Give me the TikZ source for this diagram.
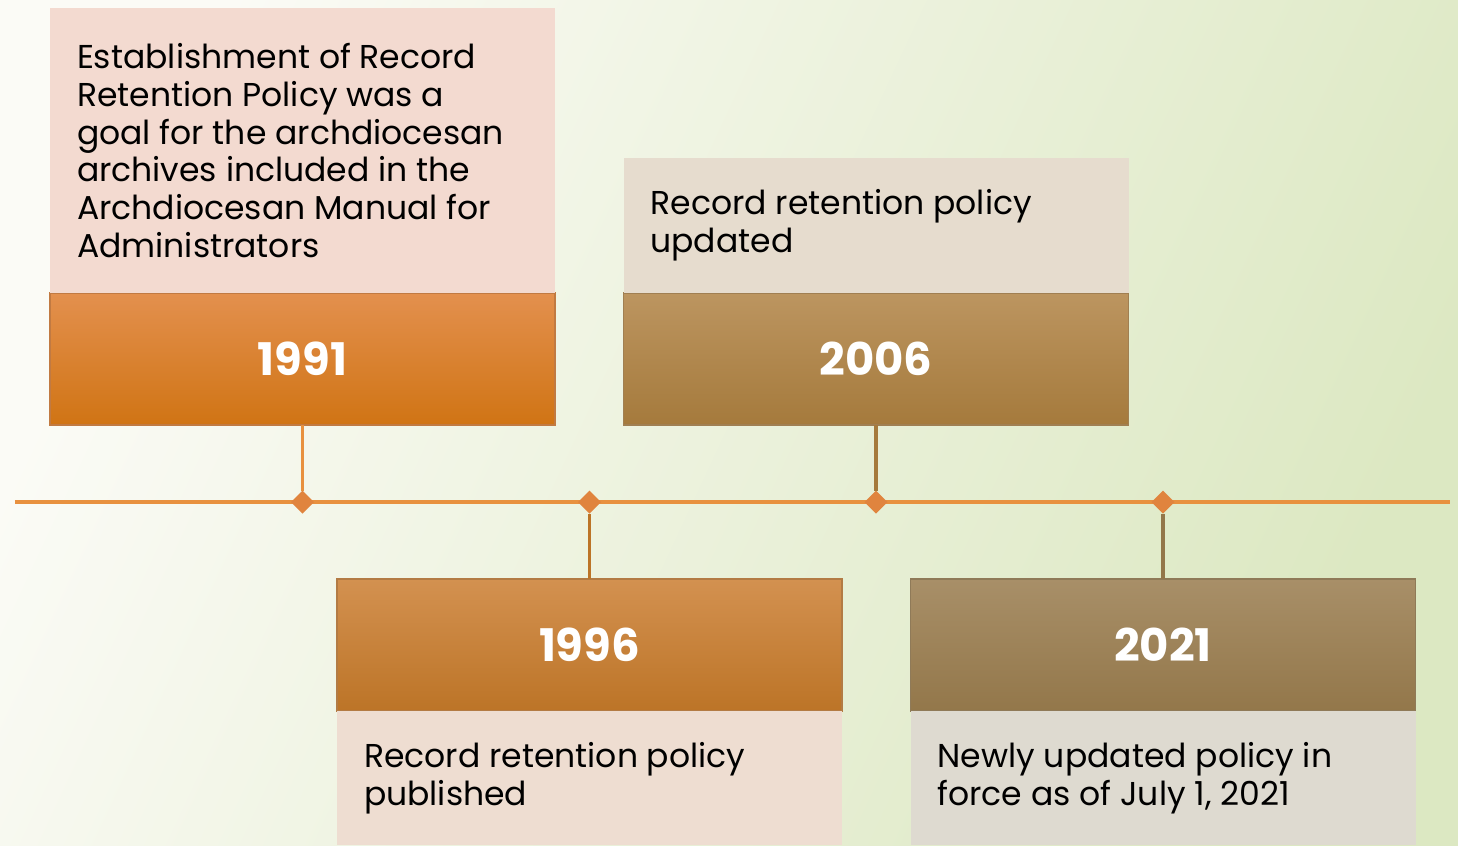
\documentclass[tikz,border=0pt]{standalone}
\usepackage{fontspec}
\setmainfont{Poppins}
\usetikzlibrary{positioning, shapes.geometric, backgrounds}
\definecolor{bgleft}{HTML}{FBFBF6}
\definecolor{bgright}{HTML}{DCE8C2}
\definecolor{lineorange}{HTML}{E8913F}
\definecolor{diamondorange}{HTML}{E0843E}
\definecolor{orangetop}{HTML}{E3904E}
\definecolor{orangebot}{HTML}{D07414}
\definecolor{amberTop}{HTML}{D39150}
\definecolor{amberBot}{HTML}{BC7427}
\definecolor{tanTop}{HTML}{BC9560}
\definecolor{tanBot}{HTML}{A57A3C}
\definecolor{oliveTop}{HTML}{A88F68}
\definecolor{oliveBot}{HTML}{93774A}
\definecolor{notepink}{HTML}{F3DAD0}
\definecolor{notepeach}{HTML}{EEDDD1}
\definecolor{notesand}{HTML}{E6DCCE}
\definecolor{notegrey}{HTML}{DEDAD0}

\begin{document}
\begin{tikzpicture}[
  every node/.style={font=\fontsize{9.4}{10.8}\selectfont, outer sep=0pt},
  yearbox/.style 2 args={rectangle, top color=#1, bottom color=#2, draw=#1!85!black, line width=0.5pt, minimum width=5.05cm, minimum height=1.32cm, text=white, font=\fontsize{12.8}{15}\selectfont\bfseries},
  notebox/.style={rectangle, fill=#1, minimum width=5.05cm, text width=4.51cm, inner xsep=0.27cm, align=flush left},
  milestone/.style={diamond, fill=diamondorange, minimum size=0.23cm, inner sep=0pt},
]
% background
\shade[left color=bgleft, right color=bgright, shading angle=65] (0,0) rectangle (14.58,-8.45);
\useasboundingbox (0,0) rectangle (14.58,-8.45);

% time line
\coordinate (tl) at (0.15,-5.02);
\coordinate (tr) at (14.50,-5.02);
\draw[lineorange, line width=0.9pt] (tl) -- (tr);

% year boxes
\node[yearbox={orangetop}{orangebot}] (y1991) at (3.025,-3.59) {1991};
\node[yearbox={tanTop}{tanBot}] (y2006) at (8.76,-3.59) {2006};
\node[yearbox={amberTop}{amberBot}] (y1996) at (5.895,-6.45) {1996};
\node[yearbox={oliveTop}{oliveBot}] (y2021) at (11.63,-6.45) {2021};

% notes
\node[notebox=notepink, minimum height=2.85cm, above=0pt of y1991] (n1991) {Establishment of Record\\Retention Policy was a\\goal for the archdiocesan\\archives included in the\\Archdiocesan Manual for\\Administrators};
\node[notebox=notesand, minimum height=1.35cm, above=0pt of y2006] (n2006) {Record retention policy\\updated};
\node[notebox=notepeach, minimum height=1.34cm, below=0pt of y1996] (n1996) {Record retention policy\\published};
\node[notebox=notegrey, minimum height=1.34cm, below=0pt of y2021] (n2021) {Newly updated policy in\\force as of July 1, 2021};

% milestones
\node[milestone] (d1991) at (y1991 |- tl) {};
\node[milestone] (d1996) at (y1996 |- tl) {};
\node[milestone] (d2006) at (y2006 |- tl) {};
\node[milestone] (d2021) at (y2021 |- tl) {};

\draw[lineorange, line width=0.9pt] (y1991) -- (d1991);
\draw[amberBot, line width=0.9pt] (d1996) -- (y1996);
\draw[tanBot, line width=0.9pt] (y2006) -- (d2006);
\draw[oliveBot, line width=0.9pt] (d2021) -- (y2021);
\end{tikzpicture}
\end{document}
